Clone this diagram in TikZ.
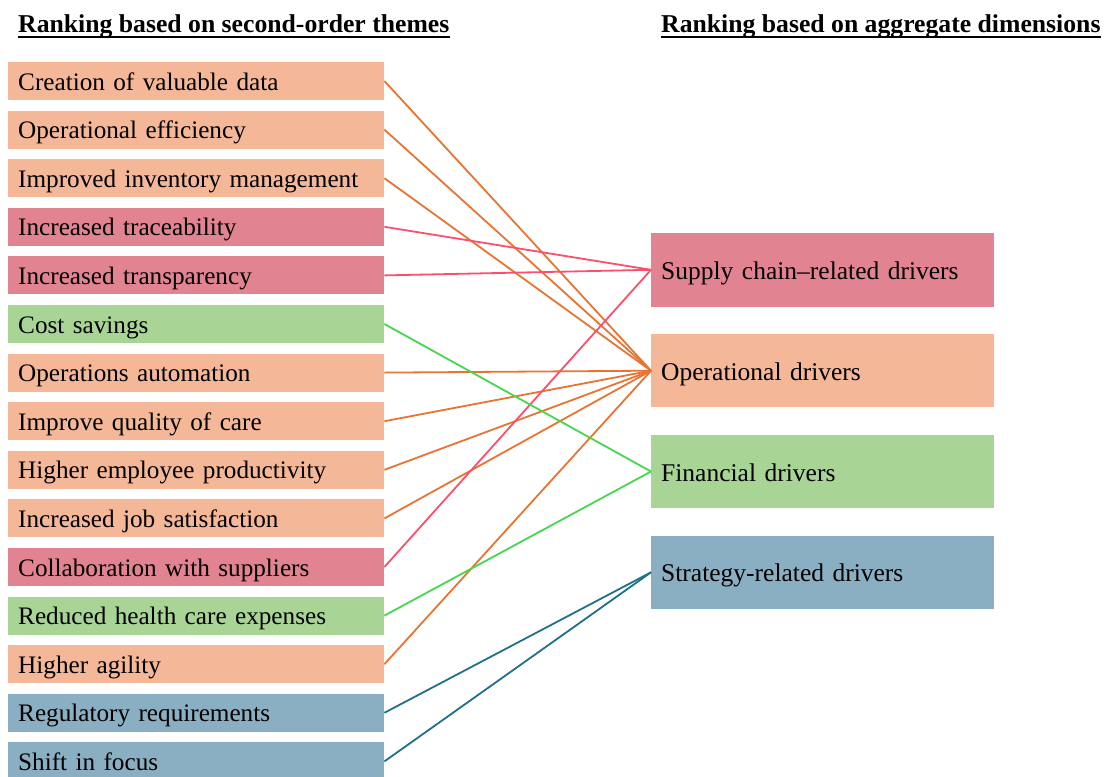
\documentclass[tikz,border=0pt]{standalone}
\usepackage{fontspec}
\setmainfont{Liberation Serif}
\usetikzlibrary{calc}

\definecolor{opfill}{RGB}{244,183,152}
\definecolor{scfill}{RGB}{226,131,145}
\definecolor{fifill}{RGB}{168,212,150}
\definecolor{stfill}{RGB}{139,175,194}
\definecolor{opline}{RGB}{232,116,50}
\definecolor{scline}{RGB}{250,80,110}
\definecolor{filine}{RGB}{70,214,80}
\definecolor{stline}{RGB}{32,112,135}

\tikzset{
  theme/.style={font=\fontsize{25.2}{30}\selectfont, anchor=west,
    minimum height=38pt, inner ysep=0pt, inner xsep=10pt,
    text width=356pt, align=left, text height=18pt, text depth=0pt},
  dimbox/.style={font=\fontsize{25.5}{30}\selectfont, anchor=west,
    minimum height=73.5pt, inner ysep=0pt, inner xsep=10pt,
    text width=323pt, align=left, text height=19pt, text depth=0pt},
  heading/.style={font=\fontsize{25.7}{30}\selectfont\bfseries,
    anchor=base west, inner sep=0pt},
  link/.style={line width=1.8pt},
}

\begin{document}
\begin{tikzpicture}[x=1pt, y=-1pt]
\clip (0,0) rectangle (1105,776);
\useasboundingbox (0,0) rectangle (1105,776);

% column headings
\node[heading] (h1) at (18,33) {Ranking based on second-order themes};
\node[heading] (h2) at (661,33) {Ranking based on aggregate dimensions};
\draw[line width=1.6pt] ($(h1.base west)+(0,4)$) -- ($(h1.base east)+(0,4)$);
\draw[line width=1.6pt] ($(h2.base west)+(0,4)$) -- ($(h2.base east)+(0,4)$);

% second-order themes
\foreach \name/\col/\label [count=\i from 0] in {
  t1/opfill/Creation of valuable data,
  t2/opfill/Operational efficiency,
  t3/opfill/Improved inventory management,
  t4/scfill/Increased traceability,
  t5/scfill/Increased transparency,
  t6/fifill/Cost savings,
  t7/opfill/Operations automation,
  t8/opfill/Improve quality of care,
  t9/opfill/Higher employee productivity,
  t10/opfill/Increased job satisfaction,
  t11/scfill/Collaboration with suppliers,
  t12/fifill/Reduced health care expenses,
  t13/opfill/Higher agility,
  t14/stfill/Regulatory requirements,
  t15/stfill/Shift in focus}
  \node[theme, fill=\col] (\name) at (8, 81+48.6*\i) {\label};

% aggregate dimensions
\node[dimbox, fill=scfill] (sc) at (651,269.8) {Supply chain–related drivers};
\node[dimbox, fill=opfill] (op) at (651,370.7) {Operational drivers};
\node[dimbox, fill=fifill] (fi) at (651,471.5) {Financial drivers};
\node[dimbox, fill=stfill] (st) at (651,572.3) {Strategy-related drivers};

% links
\foreach \t in {t1,t2,t3,t7,t8,t9,t10,t13}
  \draw[link, opline] (\t.east) -- (op.west);
\foreach \t in {t4,t5,t11}
  \draw[link, scline] (\t.east) -- (sc.west);
\foreach \t in {t6,t12}
  \draw[link, filine] (\t.east) -- (fi.west);
\foreach \t in {t14,t15}
  \draw[link, stline] (\t.east) -- (st.west);
\end{tikzpicture}
\end{document}
